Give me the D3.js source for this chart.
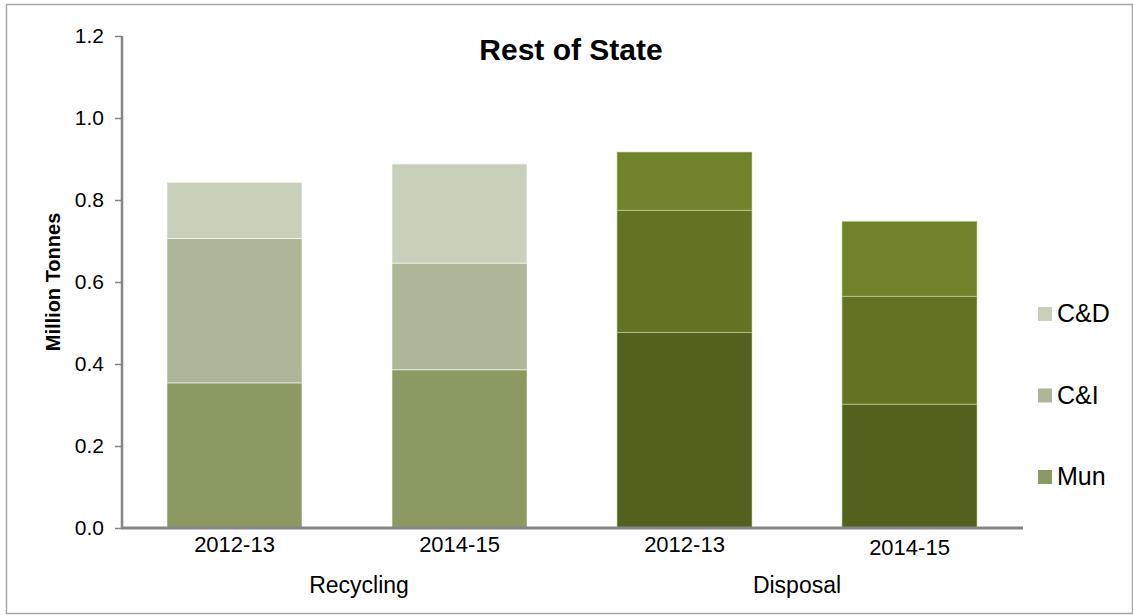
<!DOCTYPE html>
<html>
<head>
<meta charset="utf-8">
<script src="https://cdn.jsdelivr.net/npm/d3@7"></script>
<style>
  body { margin: 0; background: #fff; }
  svg { display: block; font-family: "Liberation Sans", Arial, sans-serif; }
</style>
</head>
<body>
<svg id="chart" width="1133" height="615"></svg>
<script>
// ---- data ----
const groups = ["Recycling", "Disposal"];
const periods = ["2012-13", "2014-15"];
const seriesNames = ["Mun", "C&I", "C&D"];
const munValues = [0.354, 0.386, 0.477, 0.302];
const ciValues  = [0.352, 0.260, 0.298, 0.263];
const cdValues  = [0.137, 0.242, 0.142, 0.183];
const yTicks = [0, 0.2, 0.4, 0.6, 0.8, 1.0, 1.2];
const title = "Rest of State";
const yTitle = "Million Tonnes";

// ---- styles ----
const recycleColors = {"Mun": "#8A9A62", "C&I": "#ADB797", "C&D": "#C8D0BC"};
const disposalColors = {"Mun": "#52621E", "C&I": "#637323", "C&D": "#70822A"};

const svg = d3.select("#chart");
const plot = {left: 122, right: 1022, top: 36, bottom: 528};

// outer border
svg.append("rect")
  .attr("x", 6.5).attr("y", 4.5)
  .attr("width", 1126).attr("height", 609)
  .attr("fill", "#fff").attr("stroke", "#a6a6a6").attr("stroke-width", 1.5);

// build rows
const rows = [];
groups.forEach((g, gi) => periods.forEach((p, pi) => {
  const i = gi * periods.length + pi;
  rows.push({key: g + "|" + p, group: g, period: p, pi: pi, gi: gi,
    "Mun": munValues[i], "C&I": ciValues[i], "C&D": cdValues[i]});
}));

const x = d3.scaleBand()
  .domain(rows.map(d => d.key))
  .range([plot.left, plot.right])
  .paddingInner(0.4).paddingOuter(0.2);

const y = d3.scaleLinear().domain([0, 1.2]).range([plot.bottom, plot.top]);

const stacked = d3.stack().keys(seriesNames)(rows);

// bars
stacked.forEach(layer => {
  svg.append("g").selectAll("rect")
    .data(layer)
    .join("rect")
    .attr("x", d => x(d.data.key))
    .attr("width", x.bandwidth())
    .attr("y", d => y(d[1]))
    .attr("height", d => y(d[0]) - y(d[1]))
    .attr("fill", d => d.data.group === "Recycling" ? recycleColors[layer.key] : disposalColors[layer.key])
    .attr("stroke", d => d.data.group === "Recycling" ? "rgba(255,255,255,0.55)" : "rgba(200,215,160,0.6)")
    .attr("stroke-width", 1);
});

// y axis
const yAxis = d3.axisLeft(y).tickValues(yTicks).tickFormat(d3.format(".1f")).tickSize(7).tickPadding(11);
const yg = svg.append("g").attr("transform", `translate(${plot.left},0)`).call(yAxis);
yg.select(".domain").attr("stroke", "#868686").attr("stroke-width", 2.5).attr("d", `M0,${plot.top}V${plot.bottom}`);
yg.selectAll(".tick line").attr("stroke", "#868686").attr("stroke-width", 1.5);
yg.selectAll(".tick text").attr("font-size", 21).attr("fill", "#000")
  .attr("font-family", "Liberation Sans, Arial, sans-serif");

// x axis line
svg.append("line")
  .attr("x1", plot.left - 1).attr("x2", plot.right + 1)
  .attr("y1", plot.bottom).attr("y2", plot.bottom)
  .attr("stroke", "#868686").attr("stroke-width", 3);

// category labels
svg.append("g").selectAll("text")
  .data(rows)
  .join("text")
  .attr("x", d => x(d.key) + x.bandwidth() / 2)
  .attr("y", d => d.gi === 1 && d.pi === 1 ? 555 : 552)
  .attr("text-anchor", "middle")
  .attr("font-size", 22)
  .attr("fill", "#000")
  .text(d => d.period);

// group labels
groups.forEach((g, gi) => {
  const keys = rows.filter(r => r.group === g).map(r => r.key);
  const gStart = x(keys[0]) - (x.step() - x.bandwidth()) / 2;
  const gEnd = x(keys[keys.length - 1]) + x.bandwidth() + (x.step() - x.bandwidth()) / 2;
  svg.append("text")
    .attr("x", (gStart + gEnd) / 2 + (gi === 0 ? 12 : 0))
    .attr("y", 593)
    .attr("text-anchor", "middle")
    .attr("font-size", 23)
    .attr("fill", "#000")
    .text(g);
});

// title
svg.append("text")
  .attr("x", 571).attr("y", 60)
  .attr("text-anchor", "middle")
  .attr("font-size", 30).attr("font-weight", "bold")
  .attr("fill", "#000")
  .text(title);

// y axis title
svg.append("text")
  .attr("transform", "translate(60,282) rotate(-90)")
  .attr("text-anchor", "middle")
  .attr("font-size", 20).attr("font-weight", "bold")
  .attr("fill", "#000")
  .text(yTitle);

// legend (reverse order: C&D top)
const legendItems = seriesNames.slice().reverse();
const legendY = d3.scalePoint().domain(legendItems).range([313, 476]);
const lg = svg.append("g").selectAll("g")
  .data(legendItems)
  .join("g")
  .attr("transform", d => `translate(1038,${legendY(d)})`);
lg.append("rect")
  .attr("x", 0).attr("y", -6).attr("width", 14).attr("height", 14)
  .attr("fill", d => recycleColors[d]);
lg.append("text")
  .attr("x", 19).attr("y", 9)
  .attr("font-size", 25).attr("fill", "#000")
  .text(d => d);
</script>
</body>
</html>
